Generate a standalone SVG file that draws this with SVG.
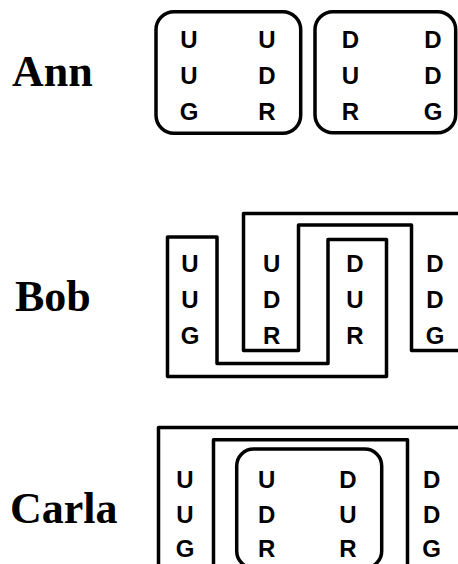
<svg xmlns="http://www.w3.org/2000/svg" width="458" height="564" viewBox="0 0 458 564">
<style>
.name{font-family:"Liberation Serif","Times New Roman",serif;font-weight:bold;font-size:44px;fill:#000}
.c{font-family:"Liberation Sans",Arial,sans-serif;font-weight:bold;font-size:24px;fill:#000;text-anchor:middle}
.ln{fill:none;stroke:#000;stroke-width:3.5;stroke-linejoin:round}
</style>
<rect width="458" height="564" fill="#fff"/>
<g id="ann">
  <text class="name" x="12" y="86">Ann</text>
  <g id="ann-box1">
    <rect class="ln" x="156" y="11.7" width="144.7" height="121.6" rx="18"/>
    <text class="c" x="189" y="48">U</text><text class="c" x="189" y="84">U</text><text class="c" x="189" y="120">G</text>
    <text class="c" x="267" y="48">U</text><text class="c" x="267" y="84">D</text><text class="c" x="267" y="120">R</text>
  </g>
  <g id="ann-box2">
    <rect class="ln" x="315" y="11.7" width="140.7" height="121" rx="18"/>
    <text class="c" x="350.5" y="48">D</text><text class="c" x="350.5" y="84">U</text><text class="c" x="350.5" y="120">R</text>
    <text class="c" x="433" y="48">D</text><text class="c" x="433" y="84">D</text><text class="c" x="433" y="120">G</text>
  </g>
</g>
<g id="bob">
  <text class="name" x="15" y="310.5">Bob</text>
  <g id="bob-shape-a">
    <polygon class="ln" points="167.5,237 217,237 217,363.5 328,363.5 328,239.5 386.5,239.5 386.5,376.5 167.5,376.5"/>
  </g>
  <g id="bob-shape-b">
    <polyline class="ln" points="470,213.5 243.5,213.5 243.5,350.5 298.5,350.5 298.5,225 411.5,225 411.5,350.5 470,350.5"/>
  </g>
  <g id="bob-letters">
    <text class="c" x="190" y="272">U</text><text class="c" x="190" y="308">U</text><text class="c" x="190" y="343.5">G</text>
    <text class="c" x="271.7" y="272">U</text><text class="c" x="271.7" y="308">D</text><text class="c" x="271.7" y="343.5">R</text>
    <text class="c" x="355" y="272">D</text><text class="c" x="355" y="308">U</text><text class="c" x="355" y="343.5">R</text>
    <text class="c" x="435" y="272">D</text><text class="c" x="435" y="308">D</text><text class="c" x="435" y="343.5">G</text>
  </g>
</g>
<g id="carla">
  <text class="name" x="10" y="523">Carla</text>
  <g id="carla-outer">
    <rect class="ln" x="158.5" y="427.5" width="320" height="160"/>
    <text class="c" x="185" y="488">U</text><text class="c" x="185" y="522.5">U</text><text class="c" x="185" y="557">G</text>
    <text class="c" x="431.7" y="488">D</text><text class="c" x="431.7" y="522.5">D</text><text class="c" x="431.7" y="557">G</text>
  </g>
  <g id="carla-middle">
    <rect class="ln" x="213.5" y="439.7" width="194" height="150"/>
  </g>
  <g id="carla-inner">
    <rect class="ln" x="236.7" y="449" width="145" height="119" rx="17"/>
    <text class="c" x="266.7" y="488">U</text><text class="c" x="266.7" y="522.5">D</text><text class="c" x="266.7" y="557">R</text>
    <text class="c" x="348" y="488">D</text><text class="c" x="348" y="522.5">U</text><text class="c" x="348" y="557">R</text>
  </g>
</g>
</svg>
